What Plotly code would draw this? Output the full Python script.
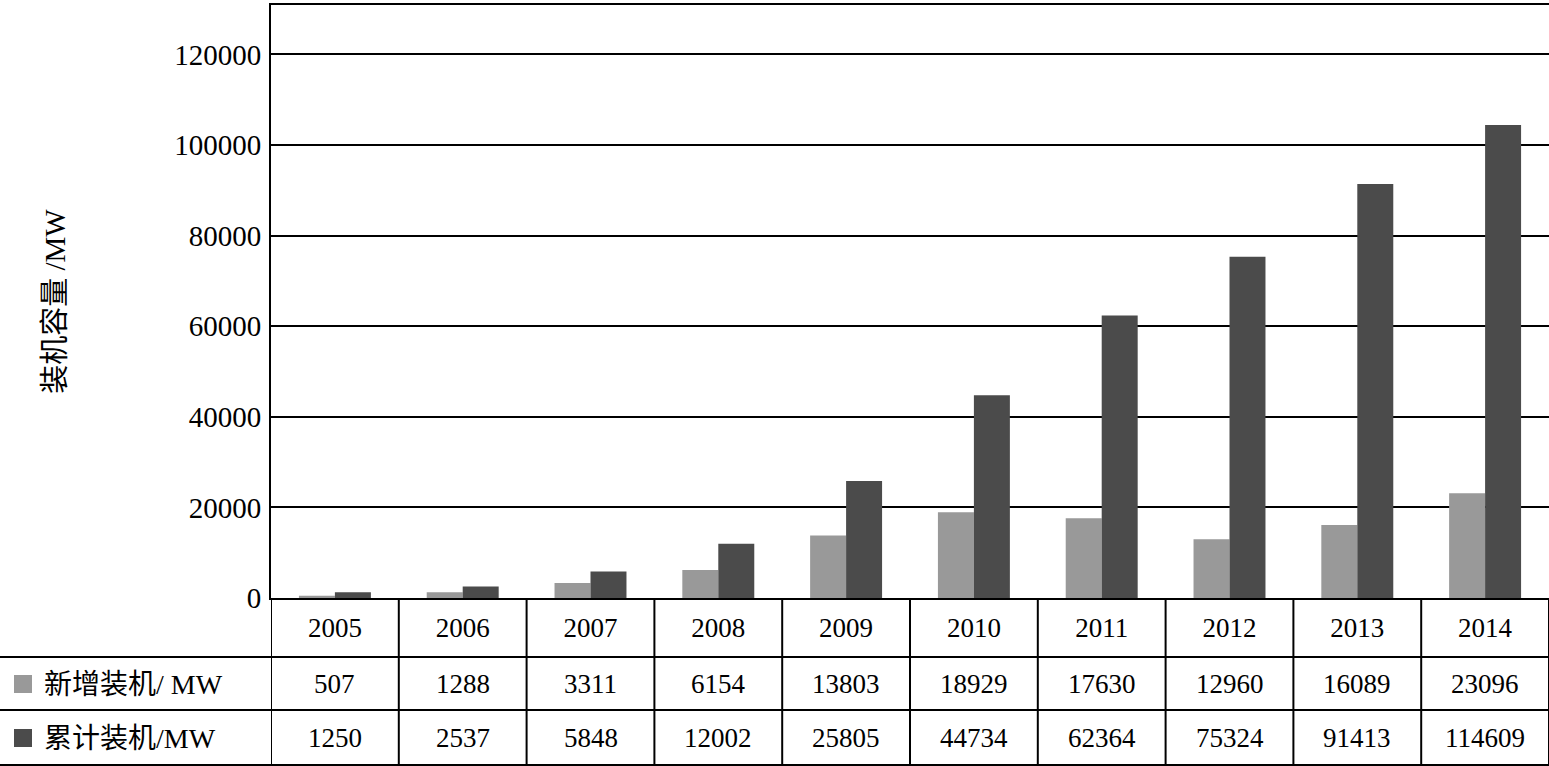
import plotly.graph_objects as go

years = ["2005", "2006", "2007", "2008", "2009", "2010", "2011", "2012", "2013", "2014"]
# bar heights as drawn in the picture
new_mw = [507, 1288, 3311, 6154, 13803, 18929, 17630, 12960, 16089, 23096]
total_mw = [1250, 2537, 5848, 12002, 25805, 44734, 62364, 75324, 91413, 104400]
# values printed in the data table
new_labels = ["507", "1288", "3311", "6154", "13803", "18929", "17630", "12960", "16089", "23096"]
total_labels = ["1250", "2537", "5848", "12002", "25805", "44734", "62364", "75324", "91413", "114609"]
series_names = ["新增装机/ MW", "累计装机/MW"]
y_ticks = [0, 20000, 40000, 60000, 80000, 100000, 120000, 140000]

c_new = "#999999"
c_total = "#4b4b4b"
FONT = "Liberation Serif, Times New Roman, Noto Sans CJK SC, serif"
W, H = 1549, 766
L, R, T, B = 271, 0, 5, 168
PW, PH = W - L - R, H - T - B

def py(pix):  # pixel row -> paper y
    return (H - B - pix) / PH

def px(pix):  # pixel col -> paper x
    return (pix - L) / PW

fig = go.Figure()
fig.add_trace(go.Bar(x=years, y=new_mw, name=series_names[0], marker_color=c_new,
                     marker_line_width=0))
fig.add_trace(go.Bar(x=years, y=total_mw, name=series_names[1], marker_color=c_total,
                     marker_line_width=0))

shapes = []
line = dict(color="black", width=2)
# horizontal table lines
for pix in (657, 710, 765):
    shapes.append(dict(type="line", xref="paper", yref="paper", x0=px(0), x1=1,
                       y0=py(pix), y1=py(pix), line=line))
# vertical column lines
for k in range(len(years) + 1):
    shapes.append(dict(type="line", xref="x", yref="paper", x0=k - 0.5, x1=k - 0.5,
                       y0=0, y1=py(765), line=line))

annotations = []
rows = [(684, new_labels, c_new, series_names[0]), (738, total_labels, c_total, series_names[1])]
for pix, labels, col, name in rows:
    for i, lab in enumerate(labels):
        annotations.append(dict(x=i, xref="x", y=py(pix), yref="paper", text=lab,
                                xanchor="center", yanchor="middle", showarrow=False,
                                font=dict(size=27, color="black", family=FONT)))
    shapes.append(dict(type="rect", xref="paper", yref="paper", x0=px(14), x1=px(32),
                       y0=py(pix - 9), y1=py(pix + 9), fillcolor=col, line=dict(width=0)))
    annotations.append(dict(x=px(42), xref="paper", y=py(pix), yref="paper", text=name,
                            xanchor="left", yanchor="middle", showarrow=False,
                            font=dict(size=28, color="black", family=FONT)))

fig.update_layout(
    width=W, height=H,
    margin=dict(l=L, r=R, t=T, b=B),
    paper_bgcolor="white", plot_bgcolor="white",
    barmode="group", bargap=0.437, bargroupgap=0,
    showlegend=False,
    font=dict(family=FONT, size=27, color="black"),
    shapes=shapes, annotations=annotations,
    xaxis=dict(type="category", range=[-0.5, len(years) - 0.5], showline=True,
               linecolor="black", linewidth=2, mirror=True,
               ticks="", showgrid=False, ticklabelstandoff=5,
               tickfont=dict(size=27, family=FONT, color="black")),
    yaxis=dict(range=[0, 130900], tickvals=y_ticks, tickformat="d", showgrid=True,
               gridcolor="black", gridwidth=1.5, showline=True, linecolor="black",
               linewidth=2, ticks="", zeroline=False, ticklabelstandoff=2,
               tickfont=dict(size=29, family=FONT, color="black"),
               title=dict(text="装机容量 /MW", standoff=100,
                          font=dict(size=29, family=FONT, color="black"))),
)

fig.write_html("out.html", config={"displayModeBar": False},
               post_script="document.body.style.margin='0';")
